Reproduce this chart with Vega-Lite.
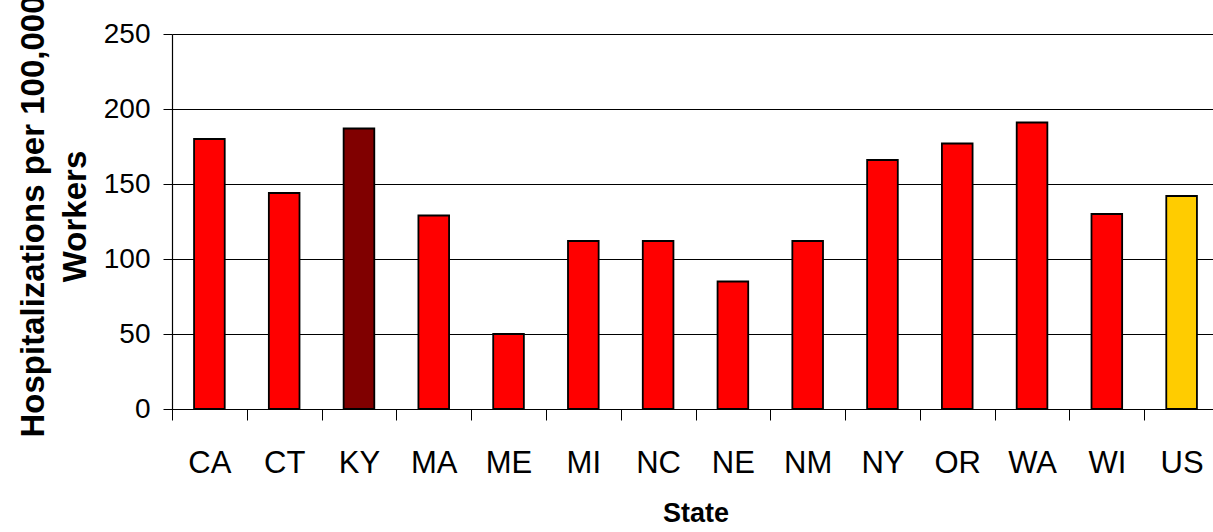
{
  "$schema": "https://vega.github.io/schema/vega-lite/v6.json",
  "width": 1047,
  "height": 375,
  "autosize": {"type": "none"},
  "padding": {"left": 172, "top": 34, "right": -6, "bottom": 123},
  "background": "white",
  "config": {"view": {"stroke": null}},
  "data": {
    "values": [
      {"state": "CA", "rate": 180, "group": "state"},
      {"state": "CT", "rate": 144, "group": "state"},
      {"state": "KY", "rate": 187, "group": "ky"},
      {"state": "MA", "rate": 129, "group": "state"},
      {"state": "ME", "rate": 50, "group": "state"},
      {"state": "MI", "rate": 112, "group": "state"},
      {"state": "NC", "rate": 112, "group": "state"},
      {"state": "NE", "rate": 85, "group": "state"},
      {"state": "NM", "rate": 112, "group": "state"},
      {"state": "NY", "rate": 166, "group": "state"},
      {"state": "OR", "rate": 177, "group": "state"},
      {"state": "WA", "rate": 191, "group": "state"},
      {"state": "WI", "rate": 130, "group": "state"},
      {"state": "US", "rate": 142, "group": "us"}
    ]
  },
  "mark": {"type": "bar", "width": {"band": 0.41}, "stroke": "#000000", "strokeWidth": 1.8},
  "encoding": {
    "x": {
      "field": "state",
      "type": "nominal",
      "sort": null,
      "scale": {"paddingInner": 0, "paddingOuter": 0},
      "axis": {
        "title": "State",
        "titleFont": "Liberation Sans",
        "titleFontSize": 27,
        "titleFontWeight": "bold",
        "titleColor": "#000000",
        "titleBaseline": "alphabetic",
        "titleY": 112,
        "labelAngle": 0,
        "labelFont": "Liberation Sans",
        "labelFontSize": 31,
        "labelColor": "#000000",
        "labelBaseline": "alphabetic",
        "labelPadding": 52,
        "tickBand": "extent",
        "tickSize": 11,
        "tickColor": "#000000",
        "tickWidth": 1,
        "domainColor": "#000000",
        "domainWidth": 1.2,
        "grid": false
      }
    },
    "y": {
      "field": "rate",
      "type": "quantitative",
      "scale": {"domain": [0, 250], "nice": false},
      "axis": {
        "values": [0, 50, 100, 150, 200, 250],
        "title": ["Hospitalizations per 100,000", "Workers"],
        "titleFont": "Liberation Sans",
        "titleFontSize": 33,
        "titleFontWeight": "bold",
        "titleColor": "#000000",
        "titleAngle": -90,
        "titleAlign": "center",
        "titleBaseline": "alphabetic",
        "titleLineHeight": 42,
        "titleX": -129,
        "titleY": 182,
        "labelFont": "Liberation Sans",
        "labelFontSize": 28,
        "labelColor": "#000000",
        "labelPadding": 13,
        "tickSize": 9,
        "tickColor": "#000000",
        "domainColor": "#000000",
        "domainWidth": 1.2,
        "grid": true,
        "gridColor": "#000000",
        "gridWidth": 1
      }
    },
    "color": {
      "field": "group",
      "type": "nominal",
      "scale": {"domain": ["state", "ky", "us"], "range": ["#FF0000", "#800000", "#FFCC00"]},
      "legend": null
    }
  }
}
